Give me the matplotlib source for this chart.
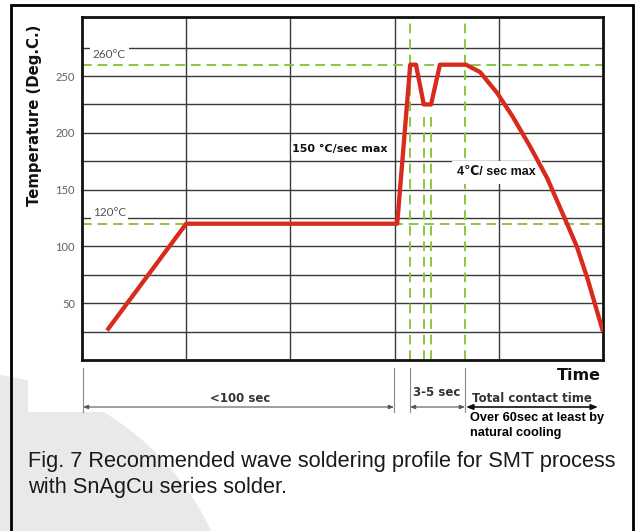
import matplotlib
matplotlib.use("Agg")
import matplotlib.pyplot as plt
from matplotlib.patches import Rectangle, Wedge, FancyArrowPatch

# ---------------- data ----------------
time_pts = [4.8, 20.0, 60.5, 63.0, 64.1, 65.6, 67.0, 68.7, 73.7, 76.4, 79.7,
            82.7, 86.0, 89.3, 93.1, 95.0, 97.1, 100.0]
temp_pts = [26, 120, 120, 260, 260, 225, 225, 260, 260, 253.5, 235,
            214, 188, 160, 120, 99.6, 70.5, 25]
ref_temps = [260, 120]                 # green dashed horizontal references
ref_times_full = [63.0, 73.5]          # green dashed verticals, full height
ref_times_low = [65.6, 67.0]           # green dashed verticals, below the dip
dip_top = 218
ytick_vals = [50, 100, 150, 200, 250]
grid_y = [25, 50, 75, 100, 125, 150, 175, 200, 225, 250, 275]
grid_x = [20, 40, 60, 80]

W, H = 635, 531
fig = plt.figure(figsize=(W / 100, H / 100), dpi=100)
fig.patch.set_facecolor("white")

def fx(px):
    return px / W

def fy(py):
    return 1 - py / H

# background layer in pixel coordinates (faint seal watermark + white panel)
bg = fig.add_axes([0, 0, 1, 1], zorder=-5)
bg.set_xlim(0, W)
bg.set_ylim(H, 0)
bg.axis("off")
bg.add_patch(Wedge((-40, 650), 278, 0, 360, width=165,
                   facecolor="#e9e9e9", edgecolor="none"))
bg.add_patch(Rectangle((28, 362), 577, 50, facecolor="white",
                       edgecolor="none"))

ax = fig.add_axes([fx(82), fy(360), (603 - 82) / W, (360 - 17) / H])
ax.set_xlim(0, 100)
ax.set_ylim(0, 302)

for gy in grid_y:
    ax.axhline(gy, color="#3a3a3a", lw=1.0, zorder=1)
for gx in grid_x:
    ax.axvline(gx, color="#3a3a3a", lw=1.0, zorder=1)

green = "#8cc63f"
dash = (0, (5, 3))
for t in ref_temps:
    ax.axhline(t, color=green, lw=1.4, ls=dash, zorder=2)
for t in ref_times_full:
    ax.axvline(t, color=green, lw=1.4, ls=dash, zorder=2)
for t in ref_times_low:
    ax.plot([t, t], [0, dip_top], color=green, lw=1.4, ls=dash, zorder=2)

ax.plot(time_pts, temp_pts, color="#d92a1e", lw=3.1, zorder=4,
        solid_joinstyle="round", solid_capstyle="butt")

ax.set_xticks([])
ax.set_yticks(ytick_vals)
ax.set_yticklabels([str(v) for v in ytick_vals], color="#606060",
                   fontsize=8, family="Lato")
ax.tick_params(axis="y", length=0, pad=5)
for s in ax.spines.values():
    s.set_linewidth(2.0)
    s.set_color("#111111")

# labels inside plot
ax.text(2.1, 269.0, "260°C", color="#555555", fontsize=8.5, family="Lato",
        va="center", ha="left", zorder=3,
        bbox=dict(facecolor="white", edgecolor="none", pad=2.5))
ax.text(2.1, 129.5, "120°C", color="#555555", fontsize=8.5, family="Lato",
        va="center", ha="left", zorder=3,
        bbox=dict(facecolor="white", edgecolor="none", pad=1.5))
ax.text(40.3, 186, "150 °C/sec max", color="#111111", fontsize=8,
        fontweight="bold", va="center", ha="left", zorder=3,
        bbox=dict(facecolor="white", edgecolor="none", pad=1.0))
ax.text(79.6, 165.5, "4\u2103/ sec max", color="#111111", fontsize=9,
        fontweight="bold", family=["Liberation Sans", "DejaVu Sans"],
        va="center", ha="center", zorder=3,
        bbox=dict(facecolor="white", edgecolor="none", pad=4))

fig.text(fx(35), fy(115), "Temperature (Deg.C.)", rotation=90,
         fontsize=10.7, fontweight="bold", ha="center", va="center",
         color="#111111")

# dimension annotations below the plot
for px in [83, 394, 410, 465]:
    fig.add_artist(plt.Line2D([fx(px), fx(px)], [fy(368), fy(412)],
                              color="#8a8a8a", lw=0.8))

def arrow(x0, x1, y, color, lw, hl, hw):
    fig.add_artist(FancyArrowPatch(
        (fx(x0), fy(y)), (fx(x1), fy(y)), transform=fig.transFigure,
        arrowstyle=f"<|-|>,head_length={hl},head_width={hw}",
        color=color, lw=lw, shrinkA=0, shrinkB=0))

arrow(83, 394, 407, "#555555", 0.8, 3, 1.2)
arrow(410, 465, 407, "#555555", 0.8, 3, 1.2)
arrow(466, 598, 407, "#111111", 1.2, 4, 1.6)

fig.text(fx(240), fy(398), "<100 sec", fontsize=8.5, fontweight="bold",
         ha="center", va="center", color="#333333")
fig.text(fx(437), fy(393), "3-5 sec", fontsize=8.5, fontweight="bold",
         ha="center", va="center", color="#333333")
fig.text(fx(532), fy(398), "Total contact time", fontsize=8.5,
         fontweight="bold", ha="center", va="center", color="#333333")
fig.text(fx(601), fy(375), "Time", fontsize=11.5, fontweight="bold",
         ha="right", va="center", color="#111111")
fig.text(fx(470), fy(418), "Over 60sec at least by", fontsize=9.2,
         fontweight="bold", family="Liberation Sans", ha="left",
         va="center", color="#000000")
fig.text(fx(470), fy(433), "natural cooling", fontsize=9.2,
         fontweight="bold", family="Liberation Sans", ha="left",
         va="center", color="#000000")

fig.text(fx(28), fy(462),
         "Fig. 7 Recommended wave soldering profile for SMT process",
         fontsize=15.7, family="Liberation Sans", ha="left", va="center",
         color="#1a1a1a")
fig.text(fx(28), fy(488), "with SnAgCu series solder.",
         fontsize=15.7, family="Liberation Sans", ha="left", va="center",
         color="#1a1a1a")

# outer frame
fig.add_artist(Rectangle((fx(11), fy(545)), fx(633) - fx(11),
                         fy(5) - fy(545), transform=fig.transFigure,
                         fill=False, edgecolor="black", lw=2.0,
                         clip_on=False))

fig.savefig("out.png", dpi=100)
